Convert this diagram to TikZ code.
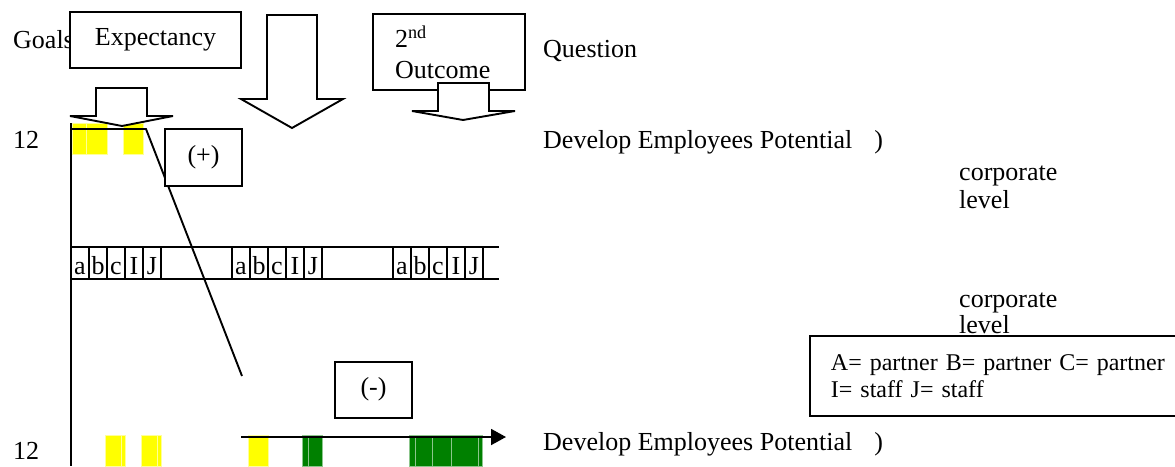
\documentclass[tikz,border=0pt]{standalone}
\usepackage{fontspec}
\setmainfont{Liberation Serif}
\usetikzlibrary{arrows.meta}
\definecolor{barYellow}{RGB}{255,255,0}
\definecolor{barGreen}{RGB}{0,128,0}
\tikzset{
  frame/.style={draw, fill=white, line width=1.9pt, inner sep=0pt},
  boxtext/.style={text height=17pt, text depth=6pt},
  label text/.style={inner sep=0pt, anchor=base west},
  cell/.style={draw, line width=1.9pt, minimum width=18pt, minimum height=32pt,
    inner sep=0pt, text height=22pt, text depth=0pt},
  ybar/.style={fill=barYellow, draw=barYellow!40!white, line width=0.4pt},
  gbar/.style={fill=barGreen, draw=barGreen!45!white, line width=0.4pt},
  axis/.style={line width=1.9pt},
  block/.style={draw, fill=white, line width=1.9pt, line join=miter},
}

\begin{document}
\begin{tikzpicture}[x=1pt, y=-1pt, font=\fontsize{26}{31}\selectfont]
\useasboundingbox (0,0) rectangle (1175,466);

% bars
\foreach \xa/\xb in {72/86,86/107,123/143}
  \path[ybar] (\xa,123) rectangle (\xb,154);
\foreach \xa/\xb in {105/121,121/125,141/157,157/161,248/268}
  \path[ybar] (\xa,435) rectangle (\xb,466);
\foreach \xa/\xb in {302/308,308/322,409/415,415/432,432/451,451/478,478/482}
  \path[gbar] (\xa,435) rectangle (\xb,466);

% axes
\coordinate (axTop) at (71,123);
\coordinate (axBot) at (71,466);
\coordinate (peakL) at (71,129);
\coordinate (peakR) at (146,129);
\coordinate (drop) at (242,376);
\coordinate (trendS) at (241,437);
\coordinate (trendE) at (506,437);
\draw[axis] (axTop) -- (axBot);
\draw[axis] (peakL) -- (peakR) -- (drop);
\draw[axis, -{Triangle[length=15pt,width=16pt]}] (trendS) -- (trendE);

% band of cells
\coordinate (bandTL) at (71,247);
\coordinate (bandTR) at (499,247);
\coordinate (bandBL) at (71,279);
\coordinate (bandBR) at (499,279);
\draw[axis] (bandTL) -- (bandTR) (bandBL) -- (bandBR);
\foreach \g/\x in {1/71,2/232,3/393}
  \foreach \l [count=\i] in {a,b,c,I,J}
    \node[cell] (cell\g\i) at ({\x+18*\i-9},263) {\l};

% left labels and boxes
\node[label text] (goals) at (13,48) {Goals};
\node[frame, boxtext, minimum width=171pt, minimum height=56pt] (expect) at (155.5,40) {Expectancy};
\node[label text] (twelveTop) at (13,148) {12};
\node[label text] (twelveBot) at (13,459) {12};
\node[frame, boxtext, minimum width=77pt, minimum height=57pt] (plus) at (203.5,157.5) {(+)};
\node[frame, boxtext, minimum width=77pt, minimum height=56pt] (minus) at (373.5,390) {(-)};
\node[frame, minimum width=152pt, minimum height=76pt, text width=108pt, align=left] (outcome) at (449,52) {2\textsuperscript{nd}\\Outcome};

% right labels
\node[label text] (question) at (543,57) {Question};
\node[label text] (potTop) at (543,148) {Develop Employees Potential\hspace{22pt})};
\node[label text] (potBot) at (543,450) {Develop Employees Potential\hspace{22pt})};
\node[label text] (corpA) at (959,180) {corporate};
\node[label text] (levelA) at (959,208) {level};
\node[label text] (corpB) at (959,307) {corporate};
\node[label text] (levelB) at (959,333) {level};
\node[frame, anchor=north west, minimum width=380pt, minimum height=80pt, text width=338pt,
  align=left, font=\fontsize{24}{27}\selectfont] (legend) at (809,335)
  {A= partner B= partner C= partner\\I= staff J= staff};

% block arrows
\draw[block] (96,88) -- (147,88) -- (147,116) -- (173,116) -- (122,126) -- (70,116) -- (96,116) -- cycle;
\draw[block] (267,15) -- (317,15) -- (317,99) -- (343,99) -- (292,128) -- (241,99) -- (267,99) -- cycle;
\draw[block] (438,83) -- (489,83) -- (489,111) -- (515,111) -- (463,120) -- (412,111) -- (438,111) -- cycle;
\end{tikzpicture}
\end{document}
